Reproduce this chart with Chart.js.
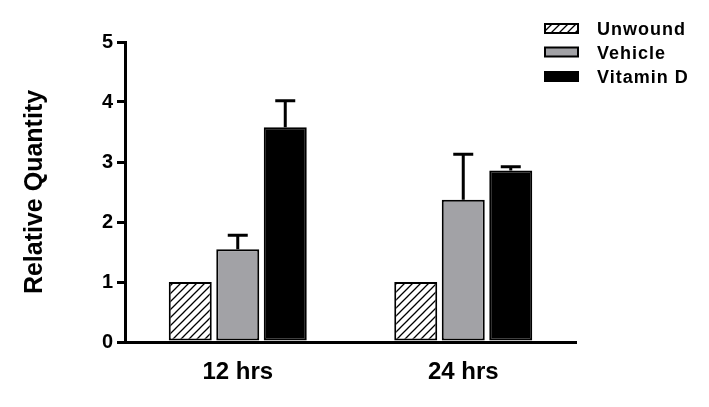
<!DOCTYPE html>
<html>
<head>
<meta charset="utf-8">
<script src="https://cdn.jsdelivr.net/npm/chart.js@4"></script>
<style>
html,body{margin:0;padding:0;background:#fff;}
#wrap{width:709px;height:407px;}
</style>
</head>
<body>
<div id="wrap"><canvas id="c" width="709" height="407"></canvas></div>
<script>
const categories = ['12 hrs', '24 hrs'];
const seriesNames = ['Unwound', 'Vehicle', 'Vitamin D'];
const unwound = [1.0, 1.0];
const vehicle = [1.545, 2.37];
const vitaminD = [3.58, 2.86];
const unwoundErr = [0, 0];
const vehicleErr = [0.235, 0.76];
const vitaminDErr = [0.44, 0.06];
const yTicks = [0, 1, 2, 3, 4, 5];

function makeHatch() {
  const s = 8;
  const p = document.createElement('canvas');
  p.width = s; p.height = s;
  const g = p.getContext('2d');
  g.fillStyle = '#fff';
  g.fillRect(0, 0, s, s);
  g.strokeStyle = '#000';
  g.lineWidth = 1.3;
  g.beginPath();
  g.moveTo(0, s); g.lineTo(s, 0);
  g.moveTo(-s / 2, s / 2); g.lineTo(s / 2, -s / 2);
  g.moveTo(s / 2, s * 1.5); g.lineTo(s * 1.5, s / 2);
  g.stroke();
  return document.getElementById('c').getContext('2d').createPattern(p, 'repeat');
}
const hatch = makeHatch();
const errs = [unwoundErr, vehicleErr, vitaminDErr];

const errorBars = {
  id: 'errorBars',
  afterDatasetsDraw(chart) {
    const ctx = chart.ctx;
    const y = chart.scales.y;
    ctx.save();
    ctx.strokeStyle = '#000';
    ctx.lineWidth = 3;
    chart.data.datasets.forEach((ds, i) => {
      const meta = chart.getDatasetMeta(i);
      meta.data.forEach((el, j) => {
        const e = errs[i][j];
        if (!e) return;
        const top = y.getPixelForValue(ds.data[j] + e);
        ctx.beginPath();
        ctx.moveTo(el.x, el.y);
        ctx.lineTo(el.x, top);
        ctx.moveTo(el.x - 10, top);
        ctx.lineTo(el.x + 10, top);
        ctx.stroke();
      });
    });
    ctx.restore();
  }
};

const customLegend = {
  id: 'customLegend',
  afterDraw(chart) {
    const ctx = chart.ctx;
    const boxX = 545, boxW = 33, boxH = 9;
    const rows = [28.5, 52, 76.5];
    ctx.save();
    chart.data.datasets.forEach((ds, i) => {
      const cy = rows[i];
      ctx.fillStyle = ds.backgroundColor;
      ctx.fillRect(boxX, cy - boxH / 2, boxW, boxH);
      ctx.strokeStyle = '#000';
      ctx.lineWidth = 2;
      ctx.strokeRect(boxX, cy - boxH / 2, boxW, boxH);
      ctx.fillStyle = '#000';
      ctx.font = 'bold 18px "Liberation Sans", Arial, sans-serif';
      try { ctx.letterSpacing = '1px'; } catch (e) {}
      ctx.textBaseline = 'middle';
      ctx.textAlign = 'left';
      ctx.fillText(ds.label, 597, cy + 2);
    });
    ctx.restore();
  }
};

new Chart(document.getElementById('c'), {
  type: 'bar',
  data: {
    labels: categories,
    datasets: [
      { label: seriesNames[0], data: unwound, backgroundColor: hatch, borderColor: '#000', borderWidth: 2, borderSkipped: false },
      { label: seriesNames[1], data: vehicle, backgroundColor: '#a2a2a6', borderColor: '#000', borderWidth: 2, borderSkipped: false },
      { label: seriesNames[2], data: vitaminD, backgroundColor: '#000', borderColor: '#000', borderWidth: 2, borderSkipped: false }
    ]
  },
  options: {
    responsive: false,
    animation: false,
    devicePixelRatio: 1,
    categoryPercentage: 0.632,
    barPercentage: 0.905,
    layout: { padding: { top: 42, right: 133, left: 0, bottom: 0 } },
    plugins: {
      legend: { display: false },
      tooltip: { enabled: false }
    },
    scales: {
      x: {
        afterFit(s) { s.height = 65; },
        grid: { display: false, drawTicks: false },
        border: { display: true, color: '#000', width: 3 },
        ticks: { color: '#000', padding: 16, font: { family: '"Liberation Sans", Arial, sans-serif', size: 24, weight: 'bold' } }
      },
      y: {
        min: 0, max: 5,
        afterFit(s) { s.width = 125; },
        afterBuildTicks(s) { s.ticks = yTicks.map(v => ({ value: v })); },
        grid: { drawOnChartArea: false, drawTicks: true, tickLength: 8, lineWidth: 3, color: '#000' },
        border: { display: true, color: '#000', width: 3 },
        ticks: { color: '#000', padding: 4, font: { family: '"Liberation Sans", Arial, sans-serif', size: 20, weight: 'bold' } },
        title: {
          display: true, text: 'Relative Quantity', color: '#000',
          padding: { top: 20, bottom: 0 },
          font: { family: '"Liberation Sans", Arial, sans-serif', size: 25, weight: 'bold' }
        }
      }
    }
  },
  plugins: [errorBars, customLegend]
});
</script>
</body>
</html>
